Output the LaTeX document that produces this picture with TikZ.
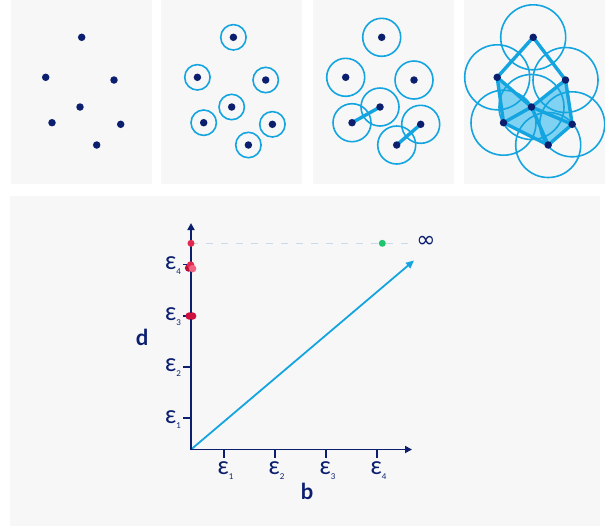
\documentclass[tikz,border=0pt]{standalone}
\usepackage{fontspec}
\setmainfont{Lato}
\newfontfamily\symfont{DejaVu Sans}
\usetikzlibrary{arrows.meta}
\definecolor{navy}{HTML}{0B1F6E}
\definecolor{sky}{HTML}{14A5E0}
\definecolor{skyfill}{HTML}{80D2F2}
\definecolor{panelbg}{HTML}{F7F7F7}
\definecolor{dashc}{HTML}{C9DAEC}
\definecolor{redA}{HTML}{E2284E}
\definecolor{redB}{HTML}{B5123A}
\definecolor{redC}{HTML}{F2617F}
\definecolor{redD}{HTML}{CF103E}
\definecolor{greenA}{HTML}{1EC46E}
\begin{document}
\begin{tikzpicture}[x=1pt,y=-1pt,
  panel/.style={fill=panelbg,draw=none},
  dot/.style={circle,fill=navy,draw=none,inner sep=0pt,minimum size=7.5pt},
  ring/.style={draw=sky,line width=1.6pt},
  link/.style={draw=sky,line width=3.4pt,line cap=round,line join=round},
  axis/.style={draw=navy,line width=1.8pt,-{Triangle[length=7pt,width=7pt]}},
  tick/.style={draw=navy,line width=1.8pt},
  eps/.style={text=navy,font=\fontsize{25}{25}\selectfont,inner sep=0pt},
  axlab/.style={text=navy,font=\fontsize{22}{22}\selectfont\bfseries,inner sep=0pt},
  mark dot/.style={circle,draw=none,inner sep=0pt,minimum size=7.5pt}
]
\useasboundingbox (0,0) rectangle (605,531);
% panels
\fill[panel] (11,0) rectangle (152,183.5);
\fill[panel] (161,0) rectangle (302,183.5);
\fill[panel] (313,0) rectangle (454,183.5);
\fill[panel] (464,0) rectangle (605,183.5);
\fill[panel] (10,196) rectangle (600,526);
% point coordinates per panel
\foreach \p/\o in {a/0,b/151.7,c/300,d/451.5}{
  \foreach \i/\x/\y in {1/81.7/37.3,2/45.7/77.3,3/114/80,4/80/107,5/52/122.7,6/120.7/124.3,7/96.7/145}{
    \coordinate (\p\i) at (\x+\o,\y);
  }
}
% panel 2 rings
\foreach \i in {1,...,7}{\draw[ring] (b\i) circle (12.7);}
% panel 3 rings and links
\foreach \i in {1,...,7}{\draw[ring] (c\i) circle (19);}
\draw[link] (c5) -- (c4);
\draw[link] (c7) -- (c6);
% panel 4
\fill[skyfill] (d2) -- (d4) -- (d5) -- cycle;
\fill[skyfill] (d4) -- (d5) -- (d7) -- cycle;
\fill[skyfill] (d4) -- (d6) -- (d7) -- cycle;
\fill[skyfill] (d3) -- (d4) -- (d6) -- cycle;
\foreach \i in {1,...,7}{\draw[ring] (d\i) circle (32.5);}
\draw[link] (d1) -- (d2);
\draw[link] (d1) -- (d3);
\draw[link] (d2) -- (d4);
\draw[link] (d2) -- (d5);
\draw[link] (d3) -- (d4);
\draw[link] (d3) -- (d6);
\draw[link] (d4) -- (d5);
\draw[link] (d4) -- (d6);
\draw[link] (d4) -- (d7);
\draw[link] (d5) -- (d7);
\draw[link] (d6) -- (d7);
% dots
\foreach \p in {a,b,c,d}{
  \foreach \i in {1,...,7}{\node[dot] (n\p\i) at (\p\i) {};}
}
% chart
\coordinate (O) at (191,449.5);
\coordinate (Ytop) at (191,223);
\coordinate (Xend) at (412,449.5);
\coordinate (Dend) at (414,260.5);
\coordinate (Inf) at (191,243.3);
\coordinate (DashEnd) at (413,243.3);
\draw[dashc,line width=1pt,dash pattern=on 7pt off 8pt] (Inf) -- (DashEnd);
\draw[sky,line width=1.8pt,-{Triangle[length=8pt,width=7pt]}] (O) -- (Dend);
\draw[axis] (O) -- (Ytop);
\draw[axis] (O) -- (Xend);
% x ticks
\foreach \k/\x in {1/224,2/275,3/326,4/377}{
  \draw[tick] (\x,449.5) -- (\x,458);
  \node[eps] (ex\k) at (\x+1.5,471) {ε\raisebox{-5pt}{\fontsize{8}{8}\selectfont\k}};
}
% y ticks
\foreach \k/\y in {1/418.3,2/366.7,3/316,4/264.5}{
  \draw[tick] (191,\y) -- (182.5,\y);
  \node[eps] (ey\k) at (173,\y+1) {ε\raisebox{-5pt}{\fontsize{8}{8}\selectfont\k}};
}
\node[axlab] (lb) at (307,491) {b};
\node[axlab] (ld) at (142,337) {d};
\node[text=navy,inner sep=0pt,font=\symfont\fontsize{23}{23}\selectfont] (inf) at (426,242.3) {∞};
% persistence points
\node[mark dot,fill=redA,minimum size=7pt] (p0) at (Inf) {};
\node[mark dot,fill=greenA,minimum size=7pt] (g0) at (382.3,243.3) {};
\node[mark dot,fill=redB] (p1) at (188.6,268) {};
\node[mark dot,fill=redA] (p2) at (190.6,265) {};
\node[mark dot,fill=redC] (p3) at (192.6,268.6) {};
\node[mark dot,fill=redD] (p4) at (189.2,316) {};
\node[mark dot,fill=redD] (p5) at (192.6,316) {};
\end{tikzpicture}
\end{document}
